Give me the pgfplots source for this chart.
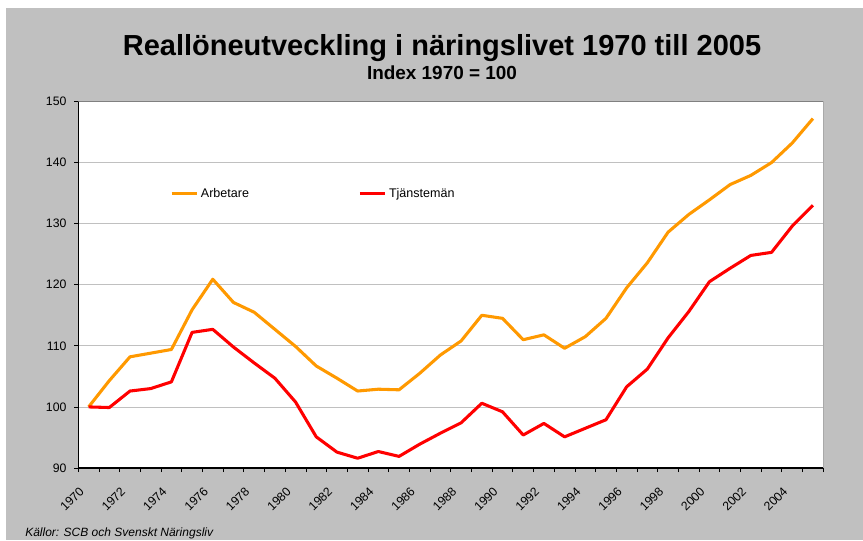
\documentclass[border=0pt]{standalone}
\usepackage{fontspec}
\setmainfont{Liberation Sans}
\usepackage{pgfplots}
\pgfplotsset{compat=1.18}
\definecolor{bggray}{HTML}{C0C0C0}
\definecolor{orangeline}{HTML}{FF9900}
\definecolor{redline}{HTML}{FF0000}
\definecolor{gridgray}{HTML}{C0C0C0}
\begin{document}
\begin{tikzpicture}
\path[use as bounding box] (-58.7pt,-54pt) rectangle (588.55pt,351pt);
\fill[white] (-58.7pt,-54pt) rectangle (588.55pt,351pt);
\fill[bggray] (-54.2pt,-54pt) rectangle (588.55pt,345pt);
\begin{axis}[
  at={(0,0)}, anchor=south west,
  scale only axis,
  width=558.75pt, height=274.9pt,
  xmin=1969.5, xmax=2005.5,
  ymin=90, ymax=150,
  axis background/.style={fill=white},
  axis lines*=left,
  axis line style={-, black, line width=0.9pt},
  tick align=outside,
  major tick length=0pt,
  minor tick length=3pt,
  tick style={black, line width=0.6pt},
  xtick={1970,1972,...,2004},
  minor xtick={1969.5,1970.5,...,2005.5},
  ytick={90,100,...,150},
  minor ytick={90,100,...,150},
  ymajorgrids,
  grid style={gridgray, line width=0.6pt},
  /pgf/number format/assume math mode=true,
  /pgf/number format/1000 sep={},
  tick label style={font=\fontsize{9.2pt}{10pt}\selectfont},
  yticklabel style={anchor=east, inner sep=0pt, xshift=-8.7pt},
  xticklabel style={xshift=-7.5pt, yshift=-13.5pt, rotate=45, anchor=north east, inner sep=0pt},
  legend columns=2,
  legend cell align=left,
  legend style={draw=none, fill=none, at={(0.123,0.748)}, anchor=west, inner sep=0pt,
    font=\fontsize{9.4pt}{11pt}\selectfont,
    /tikz/every even column/.append style={column sep=80pt}},
  legend image code/.code={\draw[#1] (0pt,0pt) -- (18.75pt,0pt);},
]
\addplot[orangeline, line width=2.3pt, line join=round] coordinates {
(1970,100) (1971,104.3) (1972,108.2) (1973,108.8) (1974,109.4) (1975,115.9)
(1976,120.9) (1977,117.1) (1978,115.5) (1979,112.7) (1980,109.9) (1981,106.7)
(1982,104.7) (1983,102.6) (1984,102.9) (1985,102.8) (1986,105.5) (1987,108.5)
(1988,110.8) (1989,115.0) (1990,114.5) (1991,111.0) (1992,111.8) (1993,109.6)
(1994,111.5) (1995,114.5) (1996,119.5) (1997,123.6) (1998,128.6) (1999,131.5)
(2000,133.9) (2001,136.4) (2002,137.9) (2003,140.0) (2004,143.2) (2005,147.2)
};
\addlegendentry{Arbetare}
\addplot[redline, line width=2.3pt, line join=round] coordinates {
(1970,100) (1971,99.9) (1972,102.6) (1973,103.0) (1974,104.1) (1975,112.2)
(1976,112.7) (1977,109.8) (1978,107.2) (1979,104.7) (1980,100.8) (1981,95.1)
(1982,92.6) (1983,91.6) (1984,92.7) (1985,91.9) (1986,93.9) (1987,95.7)
(1988,97.4) (1989,100.6) (1990,99.2) (1991,95.4) (1992,97.3) (1993,95.1)
(1994,96.5) (1995,97.9) (1996,103.3) (1997,106.2) (1998,111.3) (1999,115.6)
(2000,120.5) (2001,122.7) (2002,124.8) (2003,125.3) (2004,129.6) (2005,133.0)
};
\addlegendentry{Tjänstemän}
\draw[gray, line width=0.9pt] (rel axis cs:0,1) -- (rel axis cs:1,1) -- (rel axis cs:1,0);
\end{axis}
\node[anchor=base, font=\fontsize{21.75pt}{24pt}\selectfont\bfseries] at (272.8pt,309pt) {Reallöneutveckling i näringslivet 1970 till 2005};
\node[anchor=base, font=\fontsize{14.2pt}{16pt}\selectfont\bfseries] at (272.8pt,291pt) {Index 1970 = 100};
\node[anchor=base west, inner sep=0pt, font=\fontsize{9pt}{10pt}\selectfont\itshape] at (-39.95pt,-51pt) {Källor: SCB och Svenskt Näringsliv};
\end{tikzpicture}
\end{document}
